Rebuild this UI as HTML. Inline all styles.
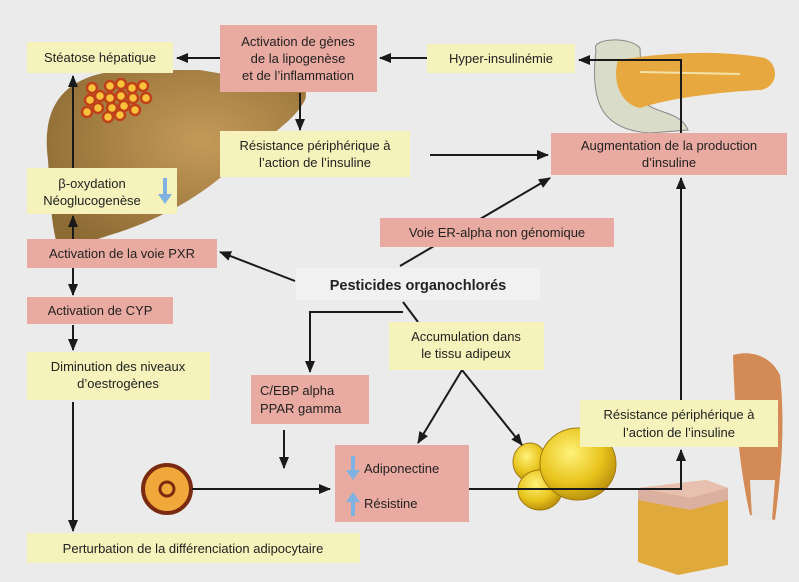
<!DOCTYPE html>
<html><head><meta charset="utf-8"><style>
html,body{margin:0;padding:0;background:#ebebeb}
svg{display:block}
text{font-family:"Liberation Sans",sans-serif;font-size:13px;fill:#222}
.y{fill:#f5f2bb}.p{fill:#e9aaa1}
.l{stroke:#1a1a1a;stroke-width:2;fill:none}
</style></head><body>
<svg width="799" height="582" viewBox="0 0 799 582" xmlns="http://www.w3.org/2000/svg">
<defs>
<marker id="a" markerWidth="12" markerHeight="10" refX="11" refY="5" orient="auto" markerUnits="userSpaceOnUse"><path d="M0,0L12,5L0,10z" fill="#1a1a1a"/></marker>
<radialGradient id="liv" cx="0.6" cy="0.4" r="0.7"><stop offset="0" stop-color="#c49a58"/><stop offset="1" stop-color="#8d6b34"/></radialGradient>
<radialGradient id="fat" cx="0.4" cy="0.35" r="0.7"><stop offset="0" stop-color="#fff27a"/><stop offset="0.6" stop-color="#e8c41c"/><stop offset="1" stop-color="#b48a0c"/></radialGradient>
</defs>
<rect width="799" height="582" fill="#ebebeb"/>
<!-- liver -->
<path d="M48,160 C40,100 70,72 130,70 L200,70 C230,75 250,80 270,78 C295,76 310,85 305,100 C295,120 270,135 240,160 C205,195 160,220 110,235 C90,242 70,247 58,248 C50,220 50,190 48,160z" fill="url(#liv)"/>
<g fill="#f9c23a" stroke="#c0401a" stroke-width="2.5">
<circle cx="92" cy="88" r="5"/><circle cx="100" cy="96" r="5"/><circle cx="110" cy="86" r="5"/><circle cx="121" cy="84" r="5"/><circle cx="132" cy="88" r="5"/><circle cx="143" cy="86" r="5"/><circle cx="90" cy="100" r="5"/><circle cx="110" cy="98" r="5"/><circle cx="121" cy="96" r="5"/><circle cx="133" cy="98" r="5"/><circle cx="146" cy="98" r="5"/><circle cx="87" cy="112" r="5"/><circle cx="98" cy="108" r="5"/><circle cx="112" cy="108" r="5"/><circle cx="124" cy="106" r="5"/><circle cx="135" cy="110" r="5"/><circle cx="108" cy="117" r="5"/><circle cx="120" cy="115" r="5"/>
</g>
<!-- pancreas -->
<path d="M596,50 C590,38 630,36 640,48 L642,100 C655,115 680,110 688,130 L650,133 C600,130 590,100 596,50z" fill="#d9dcc8" stroke="#888" stroke-width="1"/>
<path d="M618,60 C650,55 710,48 765,58 C780,65 778,88 760,90 C720,92 670,98 640,108 C620,104 612,80 618,60z" fill="#e8a840"/>
<path d="M640,72 L740,74" stroke="#f3e2a8" stroke-width="2"/>
<!-- fat cells -->
<ellipse cx="530" cy="462" rx="17" ry="19" fill="url(#fat)" stroke="#a07a10"/>
<ellipse cx="540" cy="490" rx="22" ry="20" fill="url(#fat)" stroke="#a07a10"/>
<ellipse cx="578" cy="464" rx="38" ry="36" fill="url(#fat)" stroke="#a07a10"/>
<!-- skin -->
<path d="M638,488 L706,480 L728,488 L728,565 L678,575 L638,562z" fill="#e0a93c"/>
<path d="M638,488 L706,480 L728,488 L690,498z" fill="#e8c0b0"/>
<path d="M638,488 L690,498 L728,488 L728,500 L690,510 L638,500z" fill="#dcb0a0"/>
<!-- muscle -->
<path d="M733,355 C750,350 770,355 780,375 C785,420 782,470 775,520 L750,515 C740,470 735,420 733,355z" fill="#d48a55"/>
<path d="M750,480 L775,480 L772,520 L752,518z" fill="#e8e8e8"/>
<!-- cell -->
<circle cx="167" cy="489" r="24" fill="#f1a83a" stroke="#7a2a10" stroke-width="4"/>
<circle cx="167" cy="489" r="7" fill="#f1a83a" stroke="#7a2a10" stroke-width="3"/>
<!-- connectors -->
<g class="l">
<line x1="220" y1="58" x2="177" y2="58" marker-end="url(#a)"/>
<line x1="427" y1="58" x2="380" y2="58" marker-end="url(#a)"/>
<line x1="300" y1="93" x2="300" y2="130" marker-end="url(#a)"/>
<line x1="430" y1="155" x2="548" y2="155" marker-end="url(#a)"/>
<polyline points="681,133 681,60 579,60" marker-end="url(#a)"/>
<line x1="681" y1="400" x2="681" y2="178" marker-end="url(#a)"/>
<line x1="73" y1="168" x2="73" y2="76" marker-end="url(#a)"/>
<line x1="73" y1="239" x2="73" y2="216" marker-end="url(#a)"/>
<line x1="73" y1="268" x2="73" y2="295" marker-end="url(#a)"/>
<line x1="73" y1="325" x2="73" y2="350" marker-end="url(#a)"/>
<line x1="73" y1="402" x2="73" y2="531" marker-end="url(#a)"/>
<line x1="295" y1="281" x2="220" y2="252" marker-end="url(#a)"/>
<line x1="400" y1="266" x2="550" y2="178" marker-end="url(#a)"/>
<polyline points="403,312 310,312 310,372" marker-end="url(#a)"/>
<line x1="403" y1="302" x2="418" y2="322"/>
<line x1="462" y1="370" x2="418" y2="443" marker-end="url(#a)"/>
<line x1="462" y1="370" x2="522" y2="445" marker-end="url(#a)"/>
<line x1="284" y1="430" x2="284" y2="468" marker-end="url(#a)"/>
<line x1="192" y1="489" x2="330" y2="489" marker-end="url(#a)"/>
<polyline points="469,489 681,489 681,450" marker-end="url(#a)"/>
</g>
<!-- boxes -->
<rect class="y" x="27" y="42" width="146" height="31"/>
<text x="100" y="62" text-anchor="middle">Stéatose hépatique</text>
<rect class="p" x="220" y="25" width="157" height="67"/>
<text x="298" y="46" text-anchor="middle">Activation de gènes</text>
<text x="298" y="63" text-anchor="middle">de la lipogenèse</text>
<text x="298" y="80" text-anchor="middle">et de l’inflammation</text>
<rect class="y" x="427" y="44" width="148" height="29"/>
<text x="501" y="63" text-anchor="middle">Hyper-insulinémie</text>
<rect class="y" x="220" y="131" width="190" height="46"/>
<text x="315" y="150" text-anchor="middle">Résistance périphérique à</text>
<text x="315" y="167" text-anchor="middle">l’action de l’insuline</text>
<rect class="p" x="551" y="133" width="236" height="42"/>
<text x="669" y="150" text-anchor="middle">Augmentation de la production</text>
<text x="669" y="167" text-anchor="middle">d’insuline</text>
<rect class="y" x="27" y="168" width="150" height="46"/>
<text x="92" y="188" text-anchor="middle">β-oxydation</text>
<text x="92" y="205" text-anchor="middle">Néoglucogenèse</text>
<path d="M163,178 L167,178 L167,194 L172,194 L165,204 L158,194 L163,194z" fill="#7fb2e0"/>
<rect class="p" x="380" y="218" width="234" height="29"/>
<text x="497" y="237" text-anchor="middle">Voie ER-alpha non génomique</text>
<rect class="p" x="27" y="239" width="190" height="29"/>
<text x="122" y="258" text-anchor="middle">Activation de la voie PXR</text>
<rect x="296" y="268" width="244" height="32" fill="#f1f1f1"/>
<text x="418" y="290" text-anchor="middle" style="font-weight:bold;font-size:14.5px">Pesticides organochlorés</text>
<rect class="p" x="27" y="297" width="146" height="27"/>
<text x="100" y="315" text-anchor="middle">Activation de CYP</text>
<rect class="y" x="389" y="322" width="155" height="48"/>
<text x="466" y="341" text-anchor="middle">Accumulation dans</text>
<text x="466" y="358" text-anchor="middle">le tissu adipeux</text>
<rect class="y" x="27" y="352" width="183" height="48"/>
<text x="118" y="371" text-anchor="middle">Diminution des niveaux</text>
<text x="118" y="388" text-anchor="middle">d’oestrogènes</text>
<rect class="p" x="251" y="375" width="118" height="49"/>
<text x="260" y="395">C/EBP alpha</text>
<text x="260" y="413">PPAR gamma</text>
<rect class="p" x="335" y="445" width="134" height="77"/>
<path d="M351,456 L355,456 L355,470 L360,470 L353,480 L346,470 L351,470z" fill="#7fb2e0"/>
<text x="364" y="473">Adiponectine</text>
<path d="M351,516 L355,516 L355,502 L360,502 L353,492 L346,502 L351,502z" fill="#7fb2e0"/>
<text x="364" y="508">Résistine</text>
<rect class="y" x="580" y="400" width="198" height="47"/>
<text x="679" y="419" text-anchor="middle">Résistance périphérique à</text>
<text x="679" y="437" text-anchor="middle">l’action de l’insuline</text>
<rect class="y" x="27" y="533" width="333" height="30"/>
<text x="193" y="553" text-anchor="middle">Perturbation de la différenciation adipocytaire</text>
</svg>
</body></html>
